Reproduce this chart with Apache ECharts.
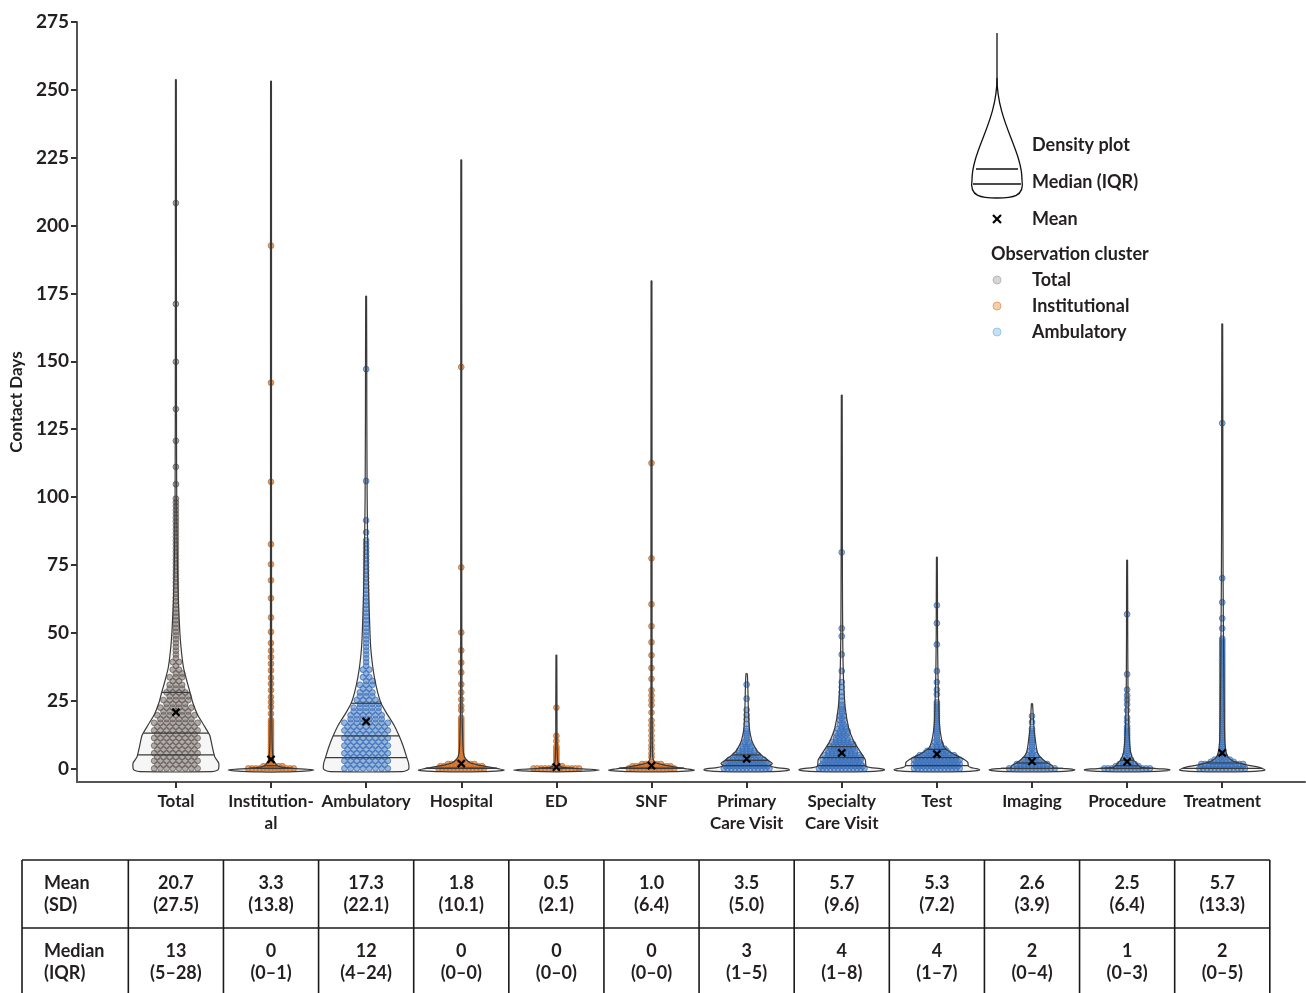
<!DOCTYPE html>
<html>
<head>
<meta charset="utf-8">
<script src="https://cdn.jsdelivr.net/npm/echarts@6/dist/echarts.min.js"></script>
<style>
  html, body { margin: 0; padding: 0; background: #fff; }
  #chart { width: 1306px; height: 993px; }
</style>
</head>
<body>
<div id="chart"></div>
<script>
// categories shown on the x axis
var categories = ['Total', 'Institution-\nal', 'Ambulatory', 'Hospital', 'ED', 'SNF',
  'Primary\nCare Visit', 'Specialty\nCare Visit', 'Test', 'Imaging', 'Procedure', 'Treatment'];
// observation cluster each category belongs to (sets the dot colour)
var clusters = ['Total', 'Institutional', 'Ambulatory', 'Institutional', 'Institutional', 'Institutional',
  'Ambulatory', 'Ambulatory', 'Ambulatory', 'Ambulatory', 'Ambulatory', 'Ambulatory'];

// summary statistics (table + marks)
var meanVals   = [20.7, 3.3, 17.3, 1.8, 0.5, 1.0, 3.5, 5.7, 5.3, 2.6, 2.5, 5.7];
var sdVals     = [27.5, 13.8, 22.1, 10.1, 2.1, 6.4, 5.0, 9.6, 7.2, 3.9, 6.4, 13.3];
var medianVals = [13, 0, 12, 0, 0, 0, 3, 4, 4, 2, 1, 2];
var q1Vals     = [5, 0, 4, 0, 0, 0, 1, 1, 1, 0, 0, 0];
var q3Vals     = [28, 1, 24, 0, 0, 0, 5, 8, 7, 4, 3, 5];

// violin outlines: [contact days, relative density width]
var densityTotal = [[-1.2,0.84],[-0.7,0.97],[0,1],[2,1],[4.2,0.91],[8,0.85],[12.2,0.79],[16,0.65],[20,0.5],[24,0.4],[27.5,0.34],[32,0.26],[37,0.18],[43,0.13],[50,0.093],[62,0.058],[74,0.037],[87,0.026],[100,0.019],[130,0.014],[180,0.012],[253.7,0.01]];
var densityInstitutional = [[-1.3,0.3],[-0.9,0.85],[-0.6,1],[-0.3,0.85],[0,0.5],[0.5,0.25],[1,0.15],[2,0.09],[3,0.06],[5,0.04],[10,0.025],[20,0.018],[40,0.014],[100,0.011],[253.2,0.01]];
var densityAmbulatory = [[-1.2,0.84],[-0.7,0.96],[0,1],[2,0.99],[4,0.95],[8,0.87],[12,0.77],[16,0.65],[20,0.49],[24,0.35],[28,0.27],[33,0.2],[38,0.15],[44,0.11],[50,0.09],[62,0.065],[74,0.046],[87,0.033],[100,0.024],[130,0.016],[174,0.01]];
var densityHospital = [[-1.2,0.5],[-0.8,0.95],[-0.6,1],[-0.2,0.9],[0.3,0.72],[0.8,0.55],[1.3,0.38],[2,0.22],[3,0.13],[4,0.08],[6,0.05],[10,0.035],[20,0.02],[40,0.014],[100,0.011],[224.2,0.01]];
var densityED = [[-1.2,0.3],[-0.9,0.8],[-0.6,1],[-0.3,0.8],[0,0.4],[0.4,0.15],[1,0.07],[2,0.04],[4,0.025],[10,0.015],[41.7,0.01]];
var densitySNF = [[-1.2,0.5],[-0.8,0.95],[-0.6,1],[-0.2,0.85],[0.3,0.62],[0.8,0.45],[1.3,0.28],[2,0.12],[2.6,0.06],[4,0.03],[10,0.018],[30,0.013],[179.6,0.01]];
var densityPrimary = [[-1.2,0.6],[-0.8,0.95],[-0.5,1],[-0.1,0.92],[0.3,0.7],[0.7,0.58],[1.2,0.56],[1.8,0.6],[2.9,0.51],[4,0.42],[4.8,0.35],[6.6,0.24],[8.5,0.17],[10.3,0.12],[14,0.07],[19,0.047],[25,0.035],[29,0.03],[34.9,0.015]];
var densitySpecialty = [[-1.2,0.6],[-0.8,0.95],[-0.5,1],[-0.1,0.9],[0.3,0.68],[0.8,0.57],[1.5,0.56],[3.2,0.55],[5,0.48],[7.2,0.39],[10.3,0.27],[15,0.16],[22.6,0.08],[32,0.043],[45,0.025],[60,0.018],[80,0.014],[137.5,0.01]];
var densityTest = [[-1.2,0.6],[-0.8,0.95],[-0.5,1],[-0.1,0.92],[0.3,0.8],[0.8,0.74],[2.3,0.72],[3.3,0.64],[4.2,0.53],[6,0.31],[7.9,0.17],[11.5,0.1],[16.5,0.06],[22.6,0.045],[35,0.025],[50,0.015],[77.8,0.01]];
var densityImaging = [[-1.2,0.6],[-0.8,0.95],[-0.5,1],[-0.1,0.8],[0.25,0.5],[1.1,0.47],[2.3,0.34],[3.6,0.23],[5.4,0.14],[7,0.11],[9.1,0.09],[14,0.05],[18.9,0.03],[23.8,0.012]];
var densityProcedure = [[-1.2,0.5],[-0.8,0.95],[-0.5,1],[-0.2,0.85],[0.1,0.55],[0.5,0.31],[1.7,0.23],[2.9,0.16],[5.4,0.09],[10.3,0.055],[16.5,0.035],[30,0.02],[50,0.014],[76.7,0.01]];
var densityTreatment = [[-1.2,0.6],[-0.8,0.95],[-0.5,1],[-0.1,0.95],[0.5,0.84],[1.1,0.62],[2.3,0.31],[3.6,0.17],[5.4,0.1],[10.3,0.06],[22.6,0.045],[35,0.037],[47,0.03],[70,0.02],[100,0.014],[163.7,0.01]];
var densityProfiles = [densityTotal, densityInstitutional, densityAmbulatory, densityHospital, densityED, densitySNF,
  densityPrimary, densitySpecialty, densityTest, densityImaging, densityProcedure, densityTreatment];

// observations: dots are dense up to swarmTops, single points above
var swarmTops = [100, 18, 85, 19, 8.5, 3, 15, 24, 25, 15, 16, 48];
var outlierVals = [
  [104.7, 111.1, 120.7, 132.4, 149.8, 171.1, 208.3],
  [20.2, 22.6, 24.4, 26.3, 28.8, 31.2, 33.4, 36.1, 38.6, 41, 43.4, 46.2, 50.3, 55.6, 62.7, 69.3, 75.2, 82.6, 105.6, 142.1, 192.6],
  [87, 91.4, 105.9, 147.1],
  [21.5, 23, 25.4, 28, 31, 35.4, 39, 43.5, 50.1, 74.1, 147.9],
  [10.1, 12, 22.4],
  [4.2, 5.5, 7.2, 8.5, 10.3, 12.1, 14, 15.9, 17.7, 20.6, 23.3, 25.1, 26.9, 28.8, 33, 37, 41.7, 46.5, 52.4, 60.5, 77.4, 112.5],
  [16.4, 18.2, 19.7, 21.6, 25.7, 30.9],
  [25, 26.5, 28.1, 30, 31.8, 35.9, 42, 48.7, 51.6, 79.6],
  [27.3, 29, 31.8, 35.9, 45.7, 53.5, 60.1],
  [17.1, 19.3],
  [17.2, 18.7, 21.4, 23.6, 25.3, 26.9, 29, 34.7, 56.8],
  [51.6, 55.3, 61.2, 70.1, 127.2]
];

var yTicks = [0, 25, 50, 75, 100, 125, 150, 175, 200, 225, 250, 275];
var xTicks = [0, 1, 2, 3, 4, 5, 6, 7, 8, 9, 10, 11];

var FONT = 'Lato';
var INK = '#231f20';
var OUTLINE = '#3a3a3a';
var HALF = 0.45; // max violin half width, in category units

var dotStyles = {
  Total:         { fill: 'rgba(122,112,107,0.55)', stroke: 'rgba(92,84,80,0.85)' },
  Institutional: { fill: 'rgba(218,126,56,0.7)', stroke: 'rgba(196,106,38,0.9)' },
  Ambulatory:    { fill: 'rgba(84,134,200,0.58)', stroke: 'rgba(52,106,182,0.9)' }
};

function widthAt(prof, v) {
  if (v < prof[0][0] || v > prof[prof.length - 1][0]) return 0;
  for (var k = 1; k < prof.length; k++) {
    if (v <= prof[k][0]) {
      var a = prof[k - 1], b = prof[k];
      var t = (v - a[0]) / (b[0] - a[0]);
      return a[1] + t * (b[1] - a[1]);
    }
  }
  return prof[prof.length - 1][1];
}

function renderViolin(params, api) {
  var i = params.dataIndex;
  var prof = densityProfiles[i];
  var unitPx = api.size([1, 0])[0];
  var pxPerVal = api.size([0, 1])[1];
  var right = [], left = [];
  prof.forEach(function (p) {
    right.push(api.coord([i + p[1] * HALF, p[0]]));
    left.unshift(api.coord([i - p[1] * HALF, p[0]]));
  });
  var pts = right.concat(left);
  var children = [];
  children.push({ type: 'polygon', shape: { points: pts, smooth: 0.2 }, style: { fill: '#f6f6f6', stroke: null } });

  // dot swarm
  var st = dotStyles[clusters[i]];
  var sparse = (i === 0 || i === 2);
  var rowStep = sparse ? 3.8 : 2.2;
  var colStep = sparse ? 6.2 : 3.8;
  var r = 2.9;
  var base = api.coord([i, 0]);
  var cap = 0.25 * unitPx;
  var topPx = swarmTops[i] * pxPerVal;
  for (var k = 0; k * rowStep <= topPx; k++) {
    var v = k * rowStep / pxPerVal;
    var w = Math.max(widthAt(prof, v - 0.5), widthAt(prof, v), widthAt(prof, v + 0.5));
    var half = Math.min(cap, 0.95 * w * HALF * unitPx - r);
    var n = Math.max(1, Math.floor(2 * half / colStep) + 1);
    var off = (k % 2 && n > 1) ? colStep / 2 : 0;
    for (var j = 0; j < n; j++) {
      var dx = (j - (n - 1) / 2) * colStep + off;
      if (n > 1 && Math.abs(dx) > half + 0.5) continue;
      children.push({ type: 'circle', shape: { cx: base[0] + dx, cy: base[1] - k * rowStep, r: r },
        style: { fill: st.fill, stroke: st.stroke, lineWidth: 0.8 } });
    }
  }
  outlierVals[i].forEach(function (v) {
    var c = api.coord([i, v]);
    children.push({ type: 'circle', shape: { cx: c[0], cy: c[1], r: r },
      style: { fill: st.fill, stroke: st.stroke, lineWidth: 0.8 } });
  });

  children.push({ type: 'polygon', shape: { points: pts, smooth: 0.2 }, style: { fill: null, stroke: OUTLINE, lineWidth: 1.2 } });

  [q1Vals[i], medianVals[i], q3Vals[i]].forEach(function (v) {
    var w = widthAt(prof, v) * HALF;
    var a = api.coord([i - w, v]), b = api.coord([i + w, v]);
    children.push({ type: 'line', shape: { x1: a[0], y1: a[1], x2: b[0], y2: b[1] }, style: { stroke: OUTLINE, lineWidth: 1.2 } });
  });

  var m = api.coord([i, meanVals[i]]);
  var s = 3.6;
  children.push({ type: 'line', shape: { x1: m[0] - s, y1: m[1] - s, x2: m[0] + s, y2: m[1] + s }, style: { stroke: '#000', lineWidth: 2.2 } });
  children.push({ type: 'line', shape: { x1: m[0] - s, y1: m[1] + s, x2: m[0] + s, y2: m[1] - s }, style: { stroke: '#000', lineWidth: 2.2 } });

  return { type: 'group', children: children };
}

var chart = echarts.init(document.getElementById('chart'));

var option = {
  animation: false,
  backgroundColor: '#fff',
  textStyle: { fontFamily: FONT },
  grid: { left: 73, right: 1, top: 22, bottom: 211 },
  xAxis: {
    type: 'value', min: -1.04, max: 11.87,
    splitLine: { show: false },
    axisLine: { onZero: false, lineStyle: { color: '#555', width: 2 } },
    axisTick: { customValues: xTicks, length: 6, lineStyle: { color: '#333', width: 2 } },
    axisLabel: {
      customValues: xTicks, margin: 9, fontSize: 17, fontWeight: 'bold', color: INK, lineHeight: 22,
      fontFamily: FONT,
      formatter: function (v) { return categories[Math.round(v)]; }
    }
  },
  yAxis: {
    type: 'value', min: -5, max: 275,
    name: 'Contact Days', nameLocation: 'middle', nameGap: 46, nameRotate: 90,
    nameTextStyle: { fontSize: 17, fontWeight: 'bold', color: INK, fontFamily: FONT },
    splitLine: { show: false },
    axisLine: { show: true, onZero: false, lineStyle: { color: '#555', width: 2 } },
    axisTick: { show: true, customValues: yTicks, length: 6, lineStyle: { color: '#333', width: 2 } },
    axisLabel: { customValues: yTicks, margin: 8, fontSize: 19, fontWeight: 'bold', color: INK, fontFamily: FONT }
  },
  series: [{
    type: 'custom',
    renderItem: renderViolin,
    encode: { x: 0, y: 1 },
    data: categories.map(function (c, i) { return [i, medianVals[i]]; }),
    clip: false,
    silent: true
  }]
};
chart.setOption(option);

// legend and table, placed with the chart's own x scale
function buildGraphics() {
  var g = [];
  var txt = { fontFamily: FONT, fontSize: 18, fontWeight: 'bold', fill: INK };
  function text(x, y, s, extra) {
    var style = Object.assign({ text: s, x: x, y: y, textVerticalAlign: 'middle' }, txt, extra || {});
    g.push({ type: 'text', style: style, silent: true });
  }
  function line(x1, y1, x2, y2, style) {
    g.push({ type: 'line', shape: { x1: x1, y1: y1, x2: x2, y2: y2 }, style: style, silent: true });
  }
  // legend glyph
  var glyph = { stroke: '#111', lineWidth: 1.3, fill: null };
  line(997, 33, 997, 78, glyph);
  g.push({ type: 'bezierCurve', shape: { x1: 997, y1: 78, cpx1: 997, cpy1: 122, cpx2: 1022, cpy2: 150, x2: 1022, y2: 180 }, style: glyph });
  g.push({ type: 'bezierCurve', shape: { x1: 997, y1: 78, cpx1: 997, cpy1: 122, cpx2: 972, cpy2: 150, x2: 972, y2: 180 }, style: glyph });
  g.push({ type: 'bezierCurve', shape: { x1: 1022, y1: 180, cpx1: 1025, cpy1: 197, cpx2: 1012, cpy2: 198, x2: 997, y2: 198 }, style: glyph });
  g.push({ type: 'bezierCurve', shape: { x1: 972, y1: 180, cpx1: 969, cpy1: 197, cpx2: 982, cpy2: 198, x2: 997, y2: 198 }, style: glyph });
  line(976, 169, 1018, 169, { stroke: '#111', lineWidth: 1.6 });
  line(973, 184, 1021, 184, { stroke: '#111', lineWidth: 1.6 });
  text(1032, 145, 'Density plot');
  text(1032, 182, 'Median (IQR)');
  line(993, 215, 1001, 223, { stroke: '#000', lineWidth: 2.2 });
  line(993, 223, 1001, 215, { stroke: '#000', lineWidth: 2.2 });
  text(1032, 219, 'Mean');
  text(991, 254, 'Observation cluster');
  var legendDots = [['Total', '#d6d6d6', '#b9b9b9', 280], ['Institutional', '#f5cfa9', '#e6a56c', 306], ['Ambulatory', '#c3e1f2', '#98c9e6', 332]];
  legendDots.forEach(function (d) {
    g.push({ type: 'circle', shape: { cx: 997, cy: d[3], r: 4 }, style: { fill: d[1], stroke: d[2], lineWidth: 1 } });
    text(1032, d[3], d[0]);
  });

  // table
  var c0 = chart.convertToPixel({ xAxisIndex: 0 }, 0);
  var c1 = chart.convertToPixel({ xAxisIndex: 0 }, 1);
  var step = c1 - c0;
  var top = 860, mid = 928, bot = 996, leftX = 22;
  var rightX = chart.convertToPixel({ xAxisIndex: 0 }, 11) + step / 2;
  var ls = { stroke: '#1a1a1a', lineWidth: 1.6 };
  line(leftX, top, rightX, top, ls);
  line(leftX, mid, rightX, mid, ls);
  line(leftX, bot, rightX, bot, ls);
  line(leftX, top, leftX, bot, ls);
  for (var i = 0; i < categories.length; i++) {
    var cx = chart.convertToPixel({ xAxisIndex: 0 }, i);
    line(cx - step / 2, top, cx - step / 2, bot, ls);
    var c = { textAlign: 'center' };
    text(cx, 883, meanVals[i].toFixed(1), c);
    text(cx, 905, '(' + sdVals[i].toFixed(1) + ')', c);
    text(cx, 951, String(medianVals[i]), c);
    text(cx, 973, '(' + q1Vals[i] + '\u2013' + q3Vals[i] + ')', c);
  }
  line(rightX, top, rightX, bot, ls);
  text(44, 883, 'Mean');
  text(44, 905, '(SD)');
  text(44, 951, 'Median');
  text(44, 973, '(IQR)');
  return g;
}
chart.setOption({ graphic: buildGraphics() });
</script>
</body>
</html>
